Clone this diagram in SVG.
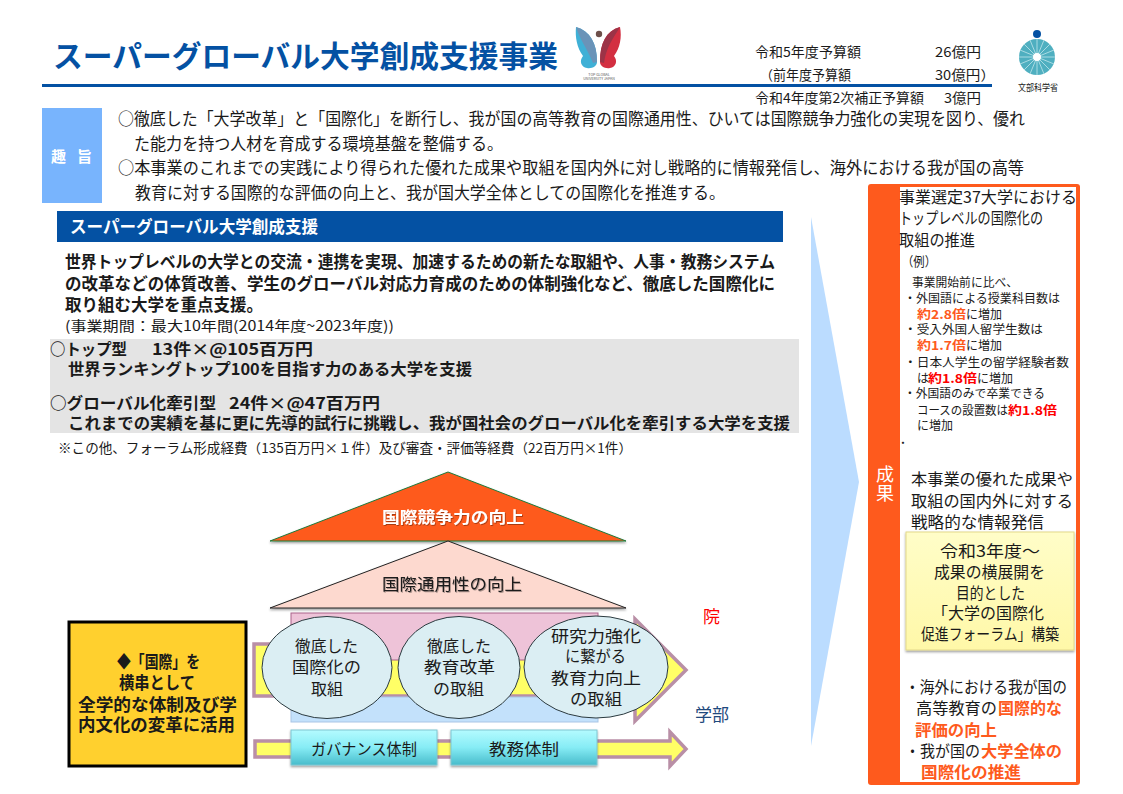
<svg xmlns="http://www.w3.org/2000/svg" width="1123" height="794" viewBox="0 0 1123 794">
<defs>
<style>
text{font-family:"Noto Sans CJK JP","Noto Sans",sans-serif;fill:#1a1a1a}
.b{font-weight:700}
.m{text-anchor:middle}
.w{fill:#fff}
.o{fill:#fe5a1d;font-weight:700}
.r{fill:#fe0000;font-weight:700}
.f16{font-size:16px}
.f17b{font-size:17px;font-weight:700}
.f12{font-size:12px}
.f17{font-size:16.5px}
.f14{font-size:13.5px}
.arrow{fill:#ffff66;stroke:#b98fa6;stroke-width:3.5}
.circ{fill:#dbeef3;stroke:#2b3a3f;stroke-width:1}
.teal{fill:url(#tealg);stroke:#7fc6d2;stroke-width:1;filter:url(#sh)}
</style>
<linearGradient id="tealg" x1="0" y1="0" x2="0" y2="1"><stop offset="0" stop-color="#b4fbff"/><stop offset=".5" stop-color="#86ecf5"/><stop offset="1" stop-color="#48bccb"/></linearGradient>
<linearGradient id="yelg" x1="0" y1="0" x2="0" y2="1"><stop offset="0" stop-color="#fffdc8"/><stop offset="1" stop-color="#fff8a8"/></linearGradient>
<filter id="sh" x="-10%" y="-10%" width="120%" height="125%"><feDropShadow dx="0" dy="1.5" stdDeviation="1.2" flood-color="#000" flood-opacity=".4"/></filter>
<filter id="ts" x="-5%" y="-20%" width="110%" height="150%"><feDropShadow dx="0.8" dy="1" stdDeviation="0.6" flood-color="#000" flood-opacity=".35"/></filter>
</defs>
<rect width="1123" height="794" fill="#fff"/>

<g id="header">
<text x="53" y="67" class="b" font-size="30" style="fill:#0451a3" textLength="505" lengthAdjust="spacingAndGlyphs">スーパーグローバル大学創成支援事業</text>
<rect x="42" y="84" width="950" height="3" fill="#0451a3"/>
</g>

<g id="logo-tgu">
<path d="M576,27C590,31 597,43 597,62C597,66 592,69 587,68C581,67 579,61 583,56C577,48 575,37 576,27Z" fill="#3fb0d6"/>
<path d="M576,27C590,31 597,43 597,62L593,63C588,50 580,40 576,27Z" fill="#6a93b8"/>
<path d="M620,27C606,31 600,43 600,62C600,66 605,69 610,68C616,67 618,61 614,56C620,48 622,37 620,27Z" fill="#d32f41"/>
<path d="M620,27C606,31 600,43 600,62L604,63C606,48 612,40 620,27Z" fill="#9c3347"/>
<circle cx="599" cy="34" r="3.2" fill="#6d4f4a"/>
<text x="599" y="75.500" class="m" font-size="3.600" style="fill:#555">TOP GLOBAL</text>
<text x="599" y="80" class="m" font-size="3.600" style="fill:#555">UNIVERSITY JAPAN</text>
</g>

<g id="budget">
<text x="755" y="57" class="f14" textLength="106" lengthAdjust="spacingAndGlyphs">令和5年度予算額</text>
<text x="935" y="57" class="f14" textLength="46" lengthAdjust="spacingAndGlyphs">26億円</text>
<text x="760" y="80" class="f14" textLength="91" lengthAdjust="spacingAndGlyphs">（前年度予算額</text>
<text x="935" y="80" class="f14" textLength="60" lengthAdjust="spacingAndGlyphs">30億円）</text>
<text x="755" y="103" class="f14" textLength="169" lengthAdjust="spacingAndGlyphs">令和4年度第2次補正予算額</text>
<text x="944" y="103" class="f14" textLength="37" lengthAdjust="spacingAndGlyphs">3億円</text>
</g>

<g id="logo-mext">
<circle cx="1037" cy="34" r="4" fill="#0451a3"/>
<circle cx="1037" cy="57" r="18" fill="#4fafc0"/>
<path d="M1037,39V75M1019,57H1055M1024,44L1050,70M1050,44L1024,70M1030,40L1044,74M1044,40L1030,74M1020,50L1054,64M1054,50L1020,64" stroke="#a9dbe3" stroke-width="1" fill="none"/>
<circle cx="1037" cy="57" r="4" fill="#fff"/>
<text x="1018" y="91" font-size="9.500" textLength="40" lengthAdjust="spacingAndGlyphs">文部科学省</text>
</g>

<g id="purpose">
<rect x="42" y="108" width="60" height="95" fill="#78b4fd"/>
<text x="51" y="162" class="b w" font-size="15" textLength="41" lengthAdjust="spacing">趣 旨</text>
<text x="118" y="125" font-size="16.500" textLength="907" lengthAdjust="spacingAndGlyphs">○徹底した「大学改革」と「国際化」を断行し、我が国の高等教育の国際通用性、ひいては国際競争力強化の実現を図り、優れ</text>
<text x="134" y="150" font-size="16.500" textLength="369" lengthAdjust="spacingAndGlyphs">た能力を持つ人材を育成する環境基盤を整備する。</text>
<text x="118" y="174" font-size="16.500" textLength="906" lengthAdjust="spacingAndGlyphs">○本事業のこれまでの実践により得られた優れた成果や取組を国内外に対し戦略的に情報発信し、海外における我が国の高等</text>
<text x="135" y="199" font-size="16.500" textLength="590" lengthAdjust="spacingAndGlyphs">教育に対する国際的な評価の向上と、我が国大学全体としての国際化を推進する。</text>
</g>

<g id="support">
<rect x="57" y="211" width="726" height="31" fill="#0451a3"/>
<text x="70" y="233" class="b w" font-size="17" textLength="248" lengthAdjust="spacingAndGlyphs">スーパーグローバル大学創成支援</text>
<text x="65" y="268" class="b f17" textLength="710" lengthAdjust="spacingAndGlyphs">世界トップレベルの大学との交流・連携を実現、加速するための新たな取組や、人事・教務システム</text>
<text x="65" y="290" class="b f17" textLength="710" lengthAdjust="spacingAndGlyphs">の改革などの体質改善、学生のグローバル対応力育成のための体制強化など、徹底した国際化に</text>
<text x="65" y="311" class="b f17" textLength="198" lengthAdjust="spacingAndGlyphs">取り組む大学を重点支援。</text>
<text x="65" y="331" font-size="14" textLength="329" lengthAdjust="spacingAndGlyphs">(事業期間：最大10年間(2014年度~2023年度))</text>
</g>

<g id="types">
<rect x="50" y="339" width="749" height="94" fill="#e4e4e4"/>
<text x="50" y="355" class="b f16" textLength="77" lengthAdjust="spacingAndGlyphs">○トップ型</text>
<text x="152" y="355" class="b f16" textLength="161" lengthAdjust="spacingAndGlyphs">13件×@105百万円</text>
<text x="68" y="375" class="b f16" textLength="404" lengthAdjust="spacingAndGlyphs">世界ランキングトップ100を目指す力のある大学を支援</text>
<text x="50" y="409" class="b f16" textLength="166" lengthAdjust="spacingAndGlyphs">○グローバル化牽引型</text>
<text x="229" y="409" class="b f16" textLength="151" lengthAdjust="spacingAndGlyphs">24件×@47百万円</text>
<text x="68" y="429" class="b f16" textLength="722" lengthAdjust="spacingAndGlyphs">これまでの実績を基に更に先導的試行に挑戦し、我が国社会のグローバル化を牽引する大学を支援</text>
<text x="58" y="453" font-size="13.500" textLength="574" lengthAdjust="spacingAndGlyphs">※この他、フォーラム形成経費（135百万円×１件）及び審査・評価等経費（22百万円×1件）</text>
</g>

<g id="connectors">
<polygon id="chevron" points="811,217 859,482 811,746" fill="#bbdcff"/>
<polygon class="arrow" points="254,644 635,644 635,619 686,670 635,721 635,696 254,696"/>
<polygon class="arrow" points="255,741 670,741 670,732 686,749 670,766 670,757 255,757"/>
<polygon points="940,440 1033,440 986,461" fill="#fcd9cf"/>
<polygon points="941,654 1034,654 987,676" fill="#ffb39f"/>
</g>

<g id="triangle-competitiveness">
<polygon points="448,472 626,541 270,541" fill="#fe5a1d" stroke="#1f7a3a" stroke-width="1" filter="url(#sh)"/>
<text x="382" y="523" class="b w" font-size="16" textLength="142" lengthAdjust="spacingAndGlyphs" filter="url(#ts)">国際競争力の向上</text>
</g>
<g id="triangle-compatibility">
<polygon points="448,541 626,608 270,608" fill="#fdd9cf" stroke="#222" stroke-width="1" filter="url(#sh)"/>
<text x="382" y="590" font-size="16" textLength="140" lengthAdjust="spacingAndGlyphs" filter="url(#ts)">国際通用性の向上</text>
</g>

<g id="graduate-band"><rect x="291" y="613" width="307" height="47" fill="#eec3d8" stroke="#a9628a" stroke-width="1"/></g>
<g id="undergrad-band"><rect x="291" y="697" width="307" height="25" fill="#c3e1fb" stroke="#a9c5e5" stroke-width="1"/></g>

<g id="circle-1">
<ellipse class="circ" cx="327" cy="667.500" rx="65" ry="51"/>
<text x="295" y="652" class="f16" textLength="63" lengthAdjust="spacingAndGlyphs">徹底した</text>
<text x="292" y="673" class="f16" textLength="69" lengthAdjust="spacingAndGlyphs">国際化の</text>
<text x="327" y="695" class="m f16" font-size="17">取組</text>
</g>
<g id="circle-2">
<ellipse class="circ" cx="459" cy="667.500" rx="61" ry="51"/>
<text x="427" y="652" class="f16" textLength="64" lengthAdjust="spacingAndGlyphs">徹底した</text>
<text x="424" y="673" class="f16" textLength="71" lengthAdjust="spacingAndGlyphs">教育改革</text>
<text x="433" y="695" class="f16" textLength="51" lengthAdjust="spacingAndGlyphs">の取組</text>
</g>
<g id="circle-3">
<ellipse class="circ" cx="596" cy="667" rx="72" ry="51"/>
<text x="551" y="642" class="f16" textLength="90" lengthAdjust="spacingAndGlyphs">研究力強化</text>
<text x="565" y="662" class="f16" textLength="61" lengthAdjust="spacingAndGlyphs">に繋がる</text>
<text x="551" y="684" class="f16" textLength="90" lengthAdjust="spacingAndGlyphs">教育力向上</text>
<text x="570" y="705" class="f16" textLength="52" lengthAdjust="spacingAndGlyphs">の取組</text>
</g>

<g id="label-grad"><text x="703" y="623" font-size="17" style="fill:#fe0000">院</text></g>
<g id="label-under"><text x="695" y="721" font-size="17" style="fill:#1f497d">学部</text></g>

<g id="governance">
<rect class="teal" x="291" y="730" width="146" height="35"/>
<text x="311" y="755" class="f16" textLength="106" lengthAdjust="spacingAndGlyphs">ガバナンス体制</text>
</g>
<g id="academic">
<rect class="teal" x="451" y="730" width="146" height="35"/>
<text x="489" y="755" class="f16" textLength="70" lengthAdjust="spacingAndGlyphs">教務体制</text>
</g>

<g id="kokusai-box">
<rect x="69" y="622" width="177" height="144" fill="#ffd02e" stroke="#000" stroke-width="3"/>
<text x="117" y="668" class="f17b" textLength="83" lengthAdjust="spacingAndGlyphs">◆「国際」を</text>
<text x="119" y="689" class="f17b" textLength="76" lengthAdjust="spacingAndGlyphs">横串として</text>
<text x="78" y="711" class="f17b" textLength="159" lengthAdjust="spacingAndGlyphs">全学的な体制及び学</text>
<text x="78" y="731" class="f17b" textLength="157" lengthAdjust="spacingAndGlyphs">内文化の変革に活用</text>
</g>

<g id="results">
<rect x="868" y="184" width="212" height="601" rx="3" fill="#fe5a1d"/>
<rect x="900" y="187" width="176" height="595" fill="#fff"/>
<text x="885" y="481" class="m w" font-size="18">成</text>
<text x="885" y="500" class="m w" font-size="18">果</text>
<text x="899" y="203" class="f16" textLength="178" lengthAdjust="spacingAndGlyphs">事業選定37大学における</text>
<text x="899" y="224" class="f16" textLength="144" lengthAdjust="spacingAndGlyphs">トップレベルの国際化の</text>
<text x="899" y="246" class="f16" textLength="76" lengthAdjust="spacingAndGlyphs">取組の推進</text>
<text x="902" y="266" font-size="13" textLength="34" lengthAdjust="spacingAndGlyphs">（例）</text>
<text x="912" y="287" class="f12" textLength="106" lengthAdjust="spacingAndGlyphs">事業開始前に比べ、</text>
<text x="904" y="303" class="f12" textLength="156" lengthAdjust="spacingAndGlyphs">・外国語による授業科目数は</text>
<text x="917" y="319" class="f12 o" textLength="49" lengthAdjust="spacingAndGlyphs">約2.8倍</text>
<text x="966" y="319" class="f12" textLength="36" lengthAdjust="spacingAndGlyphs">に増加</text>
<text x="904" y="334" class="f12" textLength="139" lengthAdjust="spacingAndGlyphs">・受入外国人留学生数は</text>
<text x="917" y="350" class="f12 o" textLength="49" lengthAdjust="spacingAndGlyphs">約1.7倍</text>
<text x="966" y="350" class="f12" textLength="36" lengthAdjust="spacingAndGlyphs">に増加</text>
<text x="904" y="367" class="f12" textLength="165" lengthAdjust="spacingAndGlyphs">・日本人学生の留学経験者数</text>
<text x="917" y="383" class="f12">は</text>
<text x="928" y="383" class="f12 r" textLength="49" lengthAdjust="spacingAndGlyphs">約1.8倍</text>
<text x="977" y="383" class="f12" textLength="36" lengthAdjust="spacingAndGlyphs">に増加</text>
<text x="904" y="398" class="f12" textLength="141" lengthAdjust="spacingAndGlyphs">・外国語のみで卒業できる</text>
<text x="917" y="415" class="f12" textLength="91" lengthAdjust="spacingAndGlyphs">コースの設置数は</text>
<text x="1008" y="415" class="f12 r" textLength="49" lengthAdjust="spacingAndGlyphs">約1.8倍</text>
<text x="917" y="430" class="f12" textLength="36" lengthAdjust="spacingAndGlyphs">に増加</text>
<text x="901" y="444" class="f12 b">.</text>
<text x="911" y="485" class="f16" textLength="162" lengthAdjust="spacingAndGlyphs">本事業の優れた成果や</text>
<text x="911" y="507" class="f16" textLength="162" lengthAdjust="spacingAndGlyphs">取組の国内外に対する</text>
<text x="911" y="528" class="f16" textLength="133" lengthAdjust="spacingAndGlyphs">戦略的な情報発信</text>
<text x="905" y="693" class="f16" textLength="162" lengthAdjust="spacingAndGlyphs">・海外における我が国の</text>
<text x="916" y="714" class="f16" textLength="81" lengthAdjust="spacingAndGlyphs">高等教育の</text>
<text x="998" y="714" class="f16 o" textLength="64" lengthAdjust="spacingAndGlyphs">国際的な</text>
<text x="915" y="736" class="f16 o" textLength="82" lengthAdjust="spacingAndGlyphs">評価の向上</text>
<text x="905" y="757" class="f16" textLength="75" lengthAdjust="spacingAndGlyphs">・我が国の</text>
<text x="981" y="757" class="f16 o" textLength="81" lengthAdjust="spacingAndGlyphs">大学全体の</text>
<text x="921" y="778" class="f16 o" textLength="100" lengthAdjust="spacingAndGlyphs">国際化の推進</text>
</g>

<g id="forum">
<rect x="906" y="532" width="168" height="118" fill="url(#yelg)" stroke="#e3d98a" stroke-width="1" filter="url(#sh)"/>
<text x="940" y="557" class="f16" textLength="100" lengthAdjust="spacingAndGlyphs">令和3年度～</text>
<text x="934" y="578" class="f16" textLength="111" lengthAdjust="spacingAndGlyphs">成果の横展開を</text>
<text x="956" y="599" class="f16" textLength="69" lengthAdjust="spacingAndGlyphs">目的とした</text>
<text x="932" y="619" class="f16" textLength="112" lengthAdjust="spacingAndGlyphs">「大学の国際化</text>
<text x="921" y="640" class="f16" textLength="138" lengthAdjust="spacingAndGlyphs">促進フォーラム」構築</text>
</g>
</svg>
